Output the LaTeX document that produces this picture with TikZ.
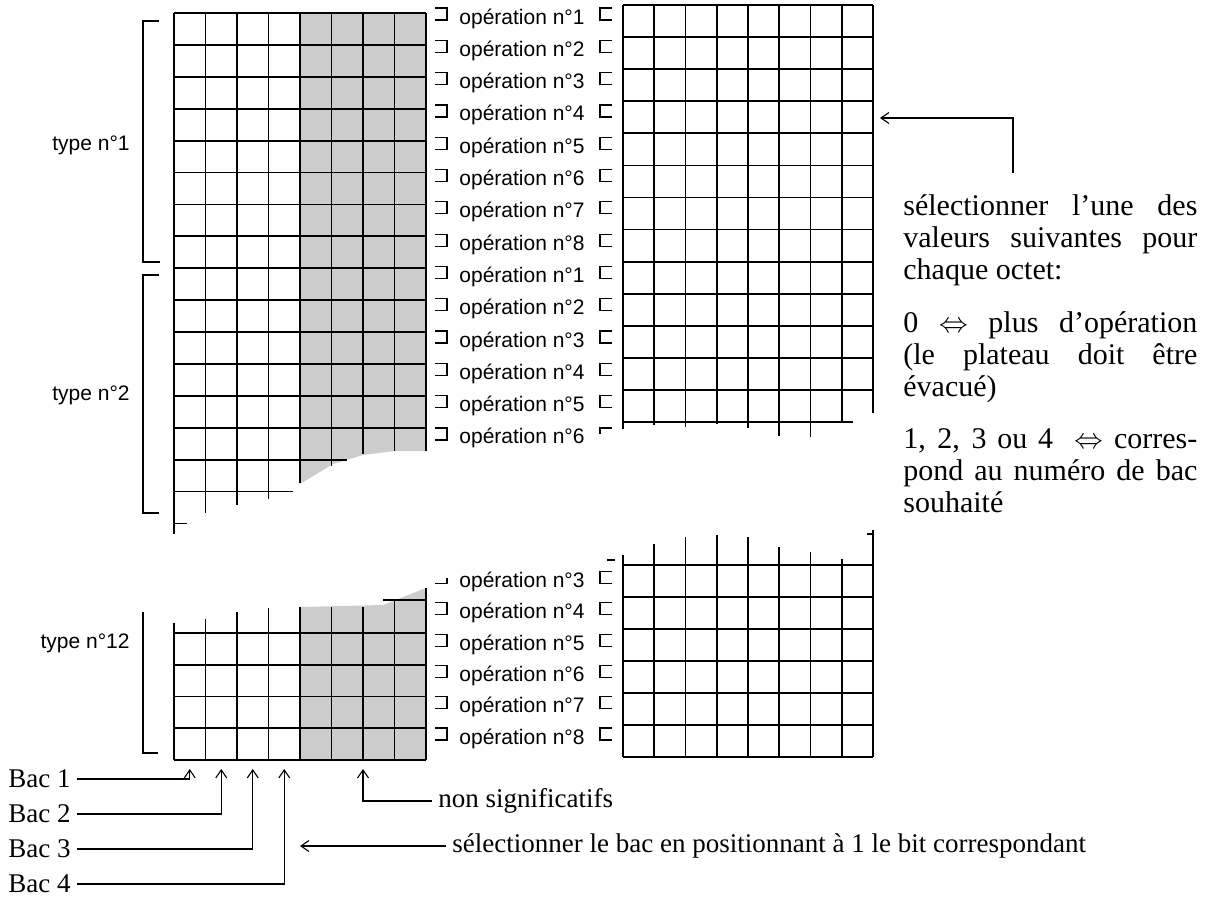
\documentclass[tikz,border=0pt]{standalone}
\usepackage{fontspec}
\setmainfont{Liberation Serif}
\newfontfamily\arialfont{Liberation Sans}
\usetikzlibrary{arrows.meta,positioning,calc}

\begin{document}
\begin{tikzpicture}[x=0.5pt,y=-0.5pt,
  gridline/.style={line width=0.9pt},
  brk/.style={line width=0.6pt},
  stipple/.style={fill=black!20},
  oplab/.style={font=\arialfont\fontsize{10.5}{12}\selectfont, inner sep=0pt, anchor=base west},
  typelab/.style={font=\arialfont\fontsize{10.5}{12}\selectfont, inner sep=0pt, anchor=east},
  serlab/.style={font=\fontsize{13.5}{16}\selectfont, inner ysep=0pt, inner xsep=3pt, anchor=west},
  valtext/.style={font=\fontsize{15}{16}\selectfont, inner sep=0pt, text width=147pt, align=justify, anchor=base west},
  arr/.style={-{Straight Barb[length=4pt,width=5.5pt]}, line width=0.55pt}
]
\useasboundingbox (0,0) rectangle (1206,906);

\fill[stipple] (300,13) -- (426,13) -- (426,451) -- (394.5,451) -- (363,455) -- (333,464) -- (300,484) -- cycle;
\foreach \k in {0,...,13} \draw[gridline] (174,{13+31.9*\k}) -- (426,{13+31.9*\k});
\draw[gridline] (174,459.6) -- (347,459.6);
\draw[gridline] (174,491.5) -- (293,491.5);
\draw[gridline] (174,523.4) -- (187,523.4);
\foreach \i/\ye in {0/534,1/513,2/505,3/499,4/483,5/466,6/454,7/451,8/451}
  \draw[gridline] ({174+31.5*\i},13) -- ({174+31.5*\i},\ye);

\foreach \k in {0,...,12} \draw[gridline] (623,{5+32.08*\k}) -- (873,{5+32.08*\k});
\draw[gridline] (623,422) -- (853,422);
\foreach \i/\ye in {0/429,1/425,2/427,3/424,4/428,5/436,6/437,7/422,8/413}
  \draw[gridline] ({623+31.25*\i},5) -- ({623+31.25*\i},\ye);

\fill[stipple] (300,760) -- (300,607) -- (383,605) -- (426,588) -- (426,760) -- cycle;
\foreach \k in {0,...,4} \draw[gridline] (174,{633+31.75*\k}) -- (426,{633+31.75*\k});
\draw[gridline] (383,600) -- (426,600);
\foreach \i/\ys in {0/623,1/619,2/612,3/608,4/607,5/607,6/607,7/600,8/588}
  \draw[gridline] ({174+31.5*\i},\ys) -- ({174+31.5*\i},760);

\foreach \k in {0,...,6} \draw[gridline] (623,{565+32*\k}) -- (873,{565+32*\k});
\foreach \i/\ys in {0/555,1/544,2/537,3/535,4/537,5/547,6/552,7/559,8/530}
  \draw[gridline] ({623+31.25*\i},\ys) -- ({623+31.25*\i},757);
\draw[gridline] (867,534) -- (873,534);
\draw[gridline] (607,560) -- (615,560);

\draw[brk] (159,21) -- (143,21) -- (143,262) -- (160,262);
\draw[brk] (159,275) -- (143,275) -- (143,513) -- (159,513);
\draw[brk] (143,612) -- (143,753) -- (158,753);
\node[typelab] (typeA) at (130,145) {type n°1};
\node[typelab] (typeB) at (130,395) {type n°2};
\node[typelab] (typeL) at (130,643) {type n°12};

\foreach \n [count=\i from 0] in {1,2,3,4,5,6,7,8,1,2,3,4,5,6} {
  \pgfmathsetmacro\yb{24+32.3*\i}
  \node[oplab] (opU\i) at (459,\yb) {opération n°\n};
  \draw[brk] (435,{\yb-16}) -- (447,{\yb-16}) -- (447,{\yb-4}) -- (435,{\yb-4});
  \ifnum\i<13
    \draw[brk] (612,{\yb-16}) -- (600,{\yb-16}) -- (600,{\yb-4}) -- (612,{\yb-4});
  \else
    \draw[brk] (612,{\yb-16}) -- (600,{\yb-16}) -- (600,{\yb-10});
  \fi
}
\foreach \n [count=\i from 0] in {3,4,5,6,7,8} {
  \pgfmathsetmacro\yb{587.5+31.3*\i}
  \node[oplab] (opL\i) at (459,\yb) {opération n°\n};
  \ifnum\i>0
    \draw[brk] (435,{\yb-16}) -- (447,{\yb-16}) -- (447,{\yb-4}) -- (435,{\yb-4});
  \else
    \draw[brk] (447,{\yb-10}) -- (447,{\yb-4}) -- (435,{\yb-4});
  \fi
  \draw[brk] (612,{\yb-16}) -- (600,{\yb-16}) -- (600,{\yb-4}) -- (612,{\yb-4});
}

\node[valtext] (selvA) at (903,215) {sélectionner l’une des\linebreak valeurs suivantes pour\linebreak chaque octet:};
\node[valtext] (selvB) at (903,332) {0 $\Leftrightarrow$ plus d’opération\linebreak (le plateau doit être\linebreak évacué)};
\node[valtext] (selvC) at (903,448) {1, 2, 3 ou 4 \ $\Leftrightarrow$ corres-\linebreak pond au numéro de bac\linebreak souhaité};
\coordinate (vtop) at (1013,173);
\coordinate (tipR) at (880,118);
\draw[arr] (vtop) |- (tipR);

\node[serlab] (bac1) at (2,779) {Bac 1};
\node[serlab] (bac2) at (2,814) {Bac 2};
\node[serlab] (bac3) at (2,849) {Bac 3};
\node[serlab] (bac4) at (2,884) {Bac 4};
\coordinate (tip1) at (189.75,769);
\coordinate (tip2) at (221.25,769);
\coordinate (tip3) at (252.75,769);
\coordinate (tip4) at (284.25,769);
\coordinate (tipN) at (363,769);
\draw[arr] (bac1.east) -| (tip1);
\draw[arr] (bac2.east) -| (tip2);
\draw[arr] (bac3.east) -| (tip3);
\draw[arr] (bac4.east) -| (tip4);

\node[serlab] (nonsig) at (432,801) {non significatifs};
\draw[arr] (nonsig.west) -| (tipN);
\node[serlab] (selbac) at (446,846) {sélectionner le bac en positionnant à 1 le bit correspondant};
\coordinate (tipS) at (300,846);
\draw[arr] (selbac.west) -- (tipS);
\end{tikzpicture}
\end{document}
